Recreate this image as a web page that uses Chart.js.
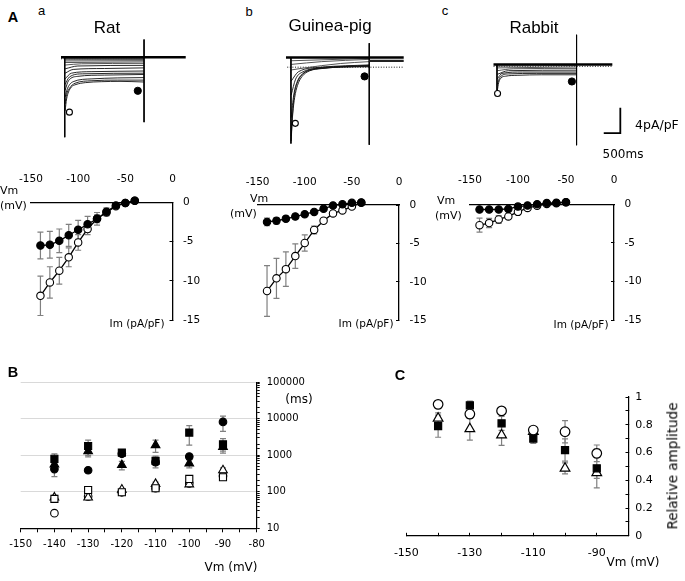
<!DOCTYPE html>
<html><head><meta charset="utf-8">
<script src="https://cdn.jsdelivr.net/npm/chart.js@4"></script>
<style>
html,body{margin:0;padding:0;background:#fff;}
#fig{position:relative;width:685px;height:581px;overflow:hidden;background:#fff;font-family:"DejaVu Sans",sans-serif;color:#000;}
#fig canvas{position:absolute;}
.t{position:absolute;white-space:nowrap;line-height:1;}
</style></head><body><div id="fig"></div>
<script>
// ---------------- DATA ----------------
// Panel A traces: time (ms from pulse onset), current (pA/pF)
const ratTraces = [
  [[10,-8.3],[56,-6.4],[113,-5.3],[198,-4.5],[339,-4.1],[622,-3.8],[1100,-3.65],[1667,-3.6],[2390,-3.7]],
  [[10,-7.2],[56,-5.7],[141,-4.7],[311,-3.9],[820,-3.5],[1600,-3.4],[2390,-3.4]],
  [[10,-6.1],[85,-4.7],[254,-3.65],[820,-3.2],[1600,-3.05],[2390,-3.0]],
  [[10,-5.0],[113,-3.5],[395,-2.8],[1200,-2.6],[2390,-2.5]],
  [[10,-4.1],[141,-2.9],[537,-2.4],[2390,-2.3]],
  [[10,-3.2],[198,-2.3],[820,-2.05],[2390,-1.95]],
  [[10,-2.3],[254,-1.7],[1200,-1.55],[2390,-1.45]],
  [[10,-1.6],[395,-1.15],[2390,-1.05]],
  [[10,-1.0],[500,-0.8],[2390,-0.73]],
  [[10,-0.6],[2390,-0.5]],
  [[10,-0.35],[2390,-0.3]],
  [[10,-0.15],[2390,-0.12]],
  [[10,0.05],[2390,0.05]]
];
const ratHolding = [[-113,0.25],[3650,0.25]];
const ratZero = [[-113,0],[2390,0]];
const ratOnset = [[0,0.25],[0,-12.5]];
const ratOffset = [[2393,3.07],[2393,-10.1]];
const ratPeakMark = [[141,-8.5]];
const ratLateMark = [[2204,-5.1]];

const gpTraces = [
  [[8,-11.7],[42,-8.0],[85,-5.1],[141,-3.36],[226,-2.04],[367,-1.02],[565,-0.51],[848,-0.22],[1497,0],[2370,0.07]],
  [[8,-10.9],[56,-7.3],[113,-4.8],[198,-2.9],[339,-1.46],[565,-0.58],[932,-0.22],[1600,0.05],[2370,0.15]],
  [[8,-8.0],[85,-4.4],[198,-2.2],[367,-1.0],[650,-0.29],[1500,0.1],[2370,0.22]],
  [[8,-4.4],[141,-1.9],[367,-0.73],[932,-0.15],[2370,0.29]],
  [[8,-2.2],[226,-0.73],[932,0],[2370,0.36]],
  [[8,-0.44],[367,-0.15],[1497,0.58],[2370,0.88]],
  [[8,0.44],[932,0.88],[2370,1.24]],
  [[8,1.02],[2370,1.39]]
];
const gpHolding = [[-150,1.53],[3418,1.53]];
const gpTail = [[2373,1.0],[3418,1.0]];
const gpZero = [[-113,0],[3418,0]];
const gpOnset = [[0,1.6],[0,-12.1]];
const gpOffset = [[2373,3.8],[2373,-12.3]];
const gpPeakMark = [[133,-8.9]];
const gpLateMark = [[2232,-1.46]];

const rbTraces = [
  [[8,-3.9],[51,-2.58],[121,-1.85],[263,-1.56],[630,-1.42],[1336,-1.34],[2398,-1.34]],
  [[8,-2.88],[93,-1.71],[347,-1.2],[1200,-1.12],[2398,-1.12]],
  [[8,-2.0],[150,-1.12],[771,-0.9],[2398,-0.9]],
  [[8,-1.27],[347,-0.69],[2398,-0.61]],
  [[8,-0.69],[489,-0.39],[2398,-0.32]],
  [[8,-0.25],[2398,-0.1]],
  [[8,0.04],[2398,0.12]]
];
const rbHolding = [[-105,0.29],[3480,0.29]];
const rbZero = [[-105,0],[3480,0]];
const rbOnset = [[0,0.34],[0,-4.1]];
const rbOffset = [[2401,5.0],[2401,-12.5]];
const rbPeakMark = [[17,-4.3]];
const rbLateMark = [[2260,-2.4]];
const scaleBar = [[3221,-10.57],[3721,-10.57],[3721,-6.57]]; // 500 ms, 4 pA/pF

// Panel A I-V curves
const ivVm = [-140,-130,-120,-110,-100,-90,-80,-70,-60,-50,-40];
const ratLate    = [-5.5,-5.4,-4.9,-4.2,-3.5,-2.8,-2.1,-1.2,-0.4,-0.1,0.2];
const ratLateErr = [1.7,1.7,1.5,1.4,1.2,1.0,0.8,0.5,0.3,0.2,0.1];
const ratPeak    = [-11.9,-10.2,-8.7,-7.0,-5.1,-3.4,-2.1,-1.3,-0.5,-0.1,0.2];
const ratPeakErr = [2.5,2.0,1.7,1.2,1.0,0.7,0.5,0.4,0.2,0.1,0.1];
const gpLate     = [-2.2,-2.05,-1.8,-1.5,-1.2,-0.9,-0.5,-0.05,0.1,0.28,0.32];
const gpLateErr  = [0.5,0.4,0.35,0.3,0.25,0.2,0.15,0.1,0.1,0.1,0.1];
const gpPeak     = [-11.2,-9.55,-8.35,-6.65,-4.95,-3.25,-2.05,-1.1,-0.7,-0.2,0.3];
const gpPeakErr  = [3.3,2.6,2.25,1.6,1.05,0.5,0.3,0.3,0.2,0.1,0.1];
const rbVm = [-140,-130,-120,-110,-100,-90,-80,-70,-60,-50];
const rbLate     = [-0.67,-0.67,-0.67,-0.6,-0.3,-0.16,0,0.16,0.2,0.27];
const rbLateErr  = [0.15,0.15,0.12,0.12,0.4,0.1,0.1,0.1,0.1,0.1];
const rbPeak     = [-2.7,-2.43,-1.96,-1.57,-0.98,-0.47,-0.2,0.05,0.15,0.25];
const rbPeakErr  = [0.9,0.6,0.5,0.3,0.2,0.1,0.1,0.1,0.1,0.1];

// Panel B time constants (ms)
const bVm = [-140,-130,-120,-110,-100,-90];
const slowCircle = [420,390,1100,650,920,8200];
const slowCircleErr = [160,60,150,120,150,3700];
const slowSquare = [800,1800,1180,700,4200,2000];
const slowSquareErr = [290,800,250,250,2300,850];
const slowTriangle = [560,1300,540,1900,600,1700];
const slowTriangleErr = [150,400,140,700,150,400];
const fastCircle = [26,75,97,125,170,270];
const fastCircleErr = [3,8,8,10,20,30];
const fastSquare = [64,112,97,125,225,250];
const fastSquareErr = [10,15,10,15,40,40];
const fastTriangle = [70,70,115,165,160,390];
const fastTriangleErr = [10,10,10,20,20,60];
const bTicks = [10,100,1000,10000,100000];

// Panel C relative amplitude
const cVm = [-140,-130,-120,-110,-100,-90];
const relCircle = [0.947,0.877,0.90,0.762,0.75,0.594];
const relCircleErr = [0.02,0.03,0.02,0.02,0.08,0.06];
const relSquare = [0.79,0.94,0.81,0.70,0.618,0.486];
const relSquareErr = [0.08,0.03,0.05,0.035,0.08,0.14];
const relTriangle = [0.846,0.77,0.726,0.75,0.486,0.454];
const relTriangleErr = [0.04,0.08,0.075,0.03,0.04,0.04];

// ---------------- SETUP ----------------
Chart.defaults.font.family = '"DejaVu Sans", sans-serif';
Chart.defaults.color = '#000';
Chart.defaults.animation = false;
Chart.defaults.responsive = false;
Chart.defaults.devicePixelRatio = 1;
Chart.defaults.plugins.legend.display = false;
Chart.defaults.plugins.tooltip.enabled = false;

const fig = document.getElementById('fig');
function makeCanvas(x, y, w, h) {
  const c = document.createElement('canvas');
  c.width = w; c.height = h;
  c.style.left = x + 'px'; c.style.top = y + 'px';
  c.style.width = w + 'px'; c.style.height = h + 'px';
  fig.appendChild(c);
  return c;
}
function txt(s, x, y, o) {
  o = o || {};
  const d = document.createElement('div');
  d.className = 't'; d.textContent = s;
  d.style.left = x + 'px'; d.style.top = y + 'px';
  d.style.fontSize = (o.size || 10) + 'px';
  if (o.font) d.style.fontFamily = o.font;
  if (o.bold) d.style.fontWeight = 'bold';
  const ax = o.ax === undefined ? 0 : o.ax;
  d.style.transform = o.rot ? `translate(-50%,-50%) rotate(${o.rot}deg)` : `translate(${-ax * 100}%,-50%)`;
  fig.appendChild(d);
}
// fix an axis box to an exact size so the chart area is known
const fixSize = n => s => { if (s.isHorizontal()) s.height = n; else s.width = n; };
const toXY = arr => arr.map(p => ({x: p[0], y: p[1]}));
const pts = (xs, ys) => xs.map((x, i) => ({x, y: ys[i]}));

const errorBarPlugin = {
  id: 'errorBars',
  beforeDatasetsDraw(chart) {
    const ctx = chart.ctx;
    chart.data.datasets.forEach((ds, i) => {
      if (!ds.errors) return;
      const meta = chart.getDatasetMeta(i);
      const xs = chart.scales[meta.xAxisID], ys = chart.scales[meta.yAxisID];
      ctx.save();
      ctx.strokeStyle = '#808080';
      ctx.lineWidth = 1.2;
      ds.data.forEach((p, j) => {
        const e = ds.errors[j];
        if (!e) return;
        const x = xs.getPixelForValue(p.x);
        let lo = p.y - e;
        if (ys.type === 'logarithmic' && lo <= 0) lo = p.y * 0.5;
        const y1 = ys.getPixelForValue(lo), y2 = ys.getPixelForValue(p.y + e);
        const cw = 3;
        ctx.beginPath();
        ctx.moveTo(x, y1); ctx.lineTo(x, y2);
        ctx.moveTo(x - cw, y1); ctx.lineTo(x + cw, y1);
        ctx.moveTo(x - cw, y2); ctx.lineTo(x + cw, y2);
        ctx.stroke();
      });
      ctx.restore();
    });
  }
};

// ---------------- TRACE CHARTS ----------------
function traceChart(rect, xr, yr, traces, parts) {
  const c = makeCanvas(rect[0], rect[1], rect[2], rect[3]);
  const ds = [];
  ds.push({data: toXY(parts.peak), pointRadius: 3, pointBackgroundColor: '#fff', pointBorderColor: '#000', pointBorderWidth: 1.1, showLine: false});
  ds.push({data: toXY(parts.late), pointRadius: 3.6, pointBackgroundColor: '#000', pointBorderColor: '#000', showLine: false});
  ds.push({data: toXY(parts.holding), borderColor: '#000', borderWidth: 2.6, pointRadius: 0});
  if (parts.tail) ds.push({data: toXY(parts.tail), borderColor: '#222', borderWidth: 2.2, pointRadius: 0});
  ds.push({data: toXY(parts.onset), borderColor: '#000', borderWidth: 1, pointRadius: 0});
  ds.push({data: toXY(parts.offset), borderColor: '#000', borderWidth: 1, pointRadius: 0});
  if (parts.bar) ds.push({data: toXY(parts.bar), borderColor: '#000', borderWidth: 1.8, pointRadius: 0});
  traces.forEach((tr) => {
    const near = tr[0][1] > -1.1;
    ds.push({data: toXY(tr), borderColor: near ? '#555' : '#111', borderWidth: near ? 1 : 0.9, pointRadius: 0, cubicInterpolationMode: 'monotone'});
  });
  ds.push({data: toXY(parts.zero), borderColor: '#000', borderWidth: 0.9, borderDash: [1, 1.6], pointRadius: 0});
  new Chart(c, {
    type: 'line',
    data: {datasets: ds},
    options: {
      layout: {padding: 0},
      scales: {
        x: {type: 'linear', display: false, min: xr[0], max: xr[1]},
        y: {type: 'linear', display: false, min: yr[0], max: yr[1]}
      }
    }
  });
}

traceChart([40, 28, 160, 122], [-593, 3927], [-13.72, 4.09], ratTraces,
  {holding: ratHolding, zero: ratZero, onset: ratOnset, offset: ratOffset, peak: ratPeakMark, late: ratLateMark});
traceChart([270, 28, 150, 130], [-480, 3757], [-13.58, 5.40], gpTraces,
  {holding: gpHolding, tail: gpTail, zero: gpZero, onset: gpOnset, offset: gpOffset, peak: gpPeakMark, late: gpLateMark});
traceChart([480, 25, 160, 130], [-359, 4161], [-13.24, 5.74], rbTraces,
  {holding: rbHolding, zero: rbZero, onset: rbOnset, offset: rbOffset, peak: rbPeakMark, late: rbLateMark, bar: scaleBar});

// ---------------- IV CHARTS ----------------
function ivChart(rect, pad, vm, late, lateErr, peak, peakErr, xPad) {
  const c = makeCanvas(rect[0], rect[1], rect[2], rect[3]);
  const common = {borderColor: '#000', borderWidth: 1.3, pointRadius: 3.7, pointBorderColor: '#000', pointBorderWidth: 1.1, clip: false, tension: 0};
  new Chart(c, {
    type: 'line',
    data: {datasets: [
      Object.assign({data: pts(vm, late), errors: lateErr, pointBackgroundColor: '#000'}, common),
      Object.assign({data: pts(vm, peak), errors: peakErr, pointBackgroundColor: '#fff'}, common)
    ]},
    options: {
      layout: {padding: {left: pad.left, top: 0, right: 0, bottom: pad.bottom}},
      scales: {
        x: {type: 'linear', position: 'top', min: -150, max: 0, afterFit: fixSize(pad.top),
            ticks: {stepSize: 50, padding: xPad, font: {size: 10.5}, maxRotation: 0, autoSkip: false},
            grid: {drawOnChartArea: false, drawTicks: false},
            border: {color: '#000', width: 1.3}},
        y: {type: 'linear', position: 'right', min: -15, max: 0, afterFit: fixSize(pad.right),
            ticks: {stepSize: 5, padding: 13.5, font: {size: 10.5}, autoSkip: false},
            grid: {drawOnChartArea: false, tickLength: -3, tickColor: '#000'},
            border: {color: '#000', width: 1.3}}
      }
    },
    plugins: [errorBarPlugin]
  });
}
ivChart([0, 160, 225, 180], {left: 31, top: 42.3, right: 52.5, bottom: 13.3}, ivVm, ratLate, ratLateErr, ratPeak, ratPeakErr, 17);
ivChart([225, 160, 215, 180], {left: 32.6, top: 45, right: 41, bottom: 9.3}, ivVm, gpLate, gpLateErr, gpPeak, gpPeakErr, 16);
ivChart([440, 160, 245, 180], {left: 22.5, top: 44.3, right: 71, bottom: 7.7}, rbVm, rbLate, rbLateErr, rbPeak, rbPeakErr, 18);

// ---------------- PANEL B ----------------
(function () {
  const c = makeCanvas(0, 360, 330, 220);
  const mk = (ys, err, style, filled, r) => ({
    data: pts(bVm, ys), errors: err, pointStyle: style, pointRadius: r,
    pointBackgroundColor: filled ? '#000' : '#fff', pointBorderColor: '#000', pointBorderWidth: 1.1, clip: false
  });
  new Chart(c, {
    type: 'scatter',
    data: {datasets: [
      mk(fastSquare, fastSquareErr, 'rect', false, 5),
      mk(fastTriangle, fastTriangleErr, 'triangle', false, 5),
      mk(fastCircle, fastCircleErr, 'circle', false, 3.8),
      mk(slowSquare, slowSquareErr, 'rect', true, 5),
      mk(slowTriangle, slowTriangleErr, 'triangle', true, 5),
      mk(slowCircle, slowCircleErr, 'circle', true, 3.8)
    ]},
    options: {
      layout: {padding: {left: 20.7, top: 22.3, right: 0, bottom: 0}},
      scales: {
        x: {type: 'linear', position: 'bottom', min: -150, max: -80, afterFit: fixSize(51.7),
            ticks: {stepSize: 5, padding: 6, font: {size: 10}, maxRotation: 0, autoSkip: false,
                    callback: v => (Math.round(v) % 10 === 0 ? String(v) : '')},
            grid: {drawOnChartArea: false, tickLength: 4, tickColor: '#000'},
            border: {color: '#000', width: 1.2}},
        y: {type: 'logarithmic', position: 'right', min: 10, max: 100000, afterFit: fixSize(73.3),
            ticks: {padding: 7, font: {size: 10}, autoSkip: false,
                    callback: v => (bTicks.includes(Math.round(v)) && Math.abs(v - Math.round(v)) < 1e-6 ? String(Math.round(v)) : '')},
            grid: {drawOnChartArea: true, tickLength: 3, tickColor: '#000',
                   color: ctx => (ctx.tick && bTicks.includes(Math.round(ctx.tick.value)) ? '#d9d9d9' : 'rgba(0,0,0,0)')},
            border: {color: '#000', width: 1.2}}
      }
    },
    plugins: [errorBarPlugin]
  });
})();

// ---------------- PANEL C ----------------
(function () {
  const c = makeCanvas(380, 370, 305, 211);
  const mk = (ys, err, style, filled, r) => ({
    data: pts(cVm, ys), errors: err, pointStyle: style, pointRadius: r,
    pointBackgroundColor: filled ? '#000' : '#fff', pointBorderColor: '#000', pointBorderWidth: 1.2, clip: false
  });
  new Chart(c, {
    type: 'scatter',
    data: {datasets: [
      mk(relCircle, relCircleErr, 'circle', false, 4.8),
      mk(relSquare, relSquareErr, 'rect', true, 5),
      mk(relTriangle, relTriangleErr, 'triangle', false, 5.6)
    ]},
    options: {
      layout: {padding: {left: 26, top: 27, right: 0, bottom: 0}},
      scales: {
        x: {type: 'linear', position: 'bottom', min: -150, max: -80, afterFit: fixSize(45.2),
            ticks: {stepSize: 10, padding: 13.9, font: {size: 11}, maxRotation: 0, autoSkip: false,
                    callback: v => ((Math.round(v) + 150) % 20 === 0 && v < -85 ? String(v) : '')},
            grid: {drawOnChartArea: false, tickLength: -3, tickColor: '#000'},
            border: {color: '#000', width: 1.2}},
        y: {type: 'linear', position: 'right', min: 0, max: 1, afterFit: fixSize(56.5),
            ticks: {stepSize: 0.1, padding: 9.7, font: {size: 11}, autoSkip: false,
                    callback: v => { const k = Math.round(v * 10); return k % 2 === 0 ? (k === 0 ? '0' : k === 10 ? '1' : (k / 10).toFixed(1)) : ''; }},
            grid: {drawOnChartArea: false, tickLength: -3, tickColor: '#000'},
            border: {color: '#000', width: 1.2}}
      }
    },
    plugins: [errorBarPlugin]
  });
})();

// ---------------- TEXT ----------------
const AR = '"Liberation Sans", Arial, sans-serif';
txt('A', 13, 17, {size: 14.5, bold: true, font: AR, ax: 0.5});
txt('a', 41.5, 10, {size: 13, font: AR, ax: 0.5});
txt('b', 249, 11, {size: 13, font: AR, ax: 0.5});
txt('c', 445, 10, {size: 13, font: AR, ax: 0.5});
txt('Rat', 107, 27, {size: 17, font: AR, ax: 0.5});
txt('Guinea-pig', 330, 25, {size: 17, font: AR, ax: 0.5});
txt('Rabbit', 534, 27, {size: 17, font: AR, ax: 0.5});
txt('4pA/pF', 635, 125, {size: 12.5});
txt('500ms', 623, 154, {size: 12, ax: 0.5});

txt('Vm', 0, 190, {size: 11});
txt('(mV)', 0, 205, {size: 11});
txt('Im (pA/pF)', 164.5, 323, {size: 10.5, ax: 1});
txt('Vm', 250, 198, {size: 11});
txt('(mV)', 230, 213, {size: 11});
txt('Im (pA/pF)', 393.5, 323, {size: 10.5, ax: 1});
txt('Vm', 437, 200, {size: 11});
txt('(mV)', 435, 215, {size: 11});
txt('Im (pA/pF)', 608.5, 324, {size: 10.5, ax: 1});

txt('B', 13, 372, {size: 14.5, bold: true, font: AR, ax: 0.5});
txt('(ms)', 299, 399, {size: 12, ax: 0.5});
txt('Vm (mV)', 231, 567, {size: 12, ax: 0.5});

txt('C', 400, 375, {size: 14.5, bold: true, font: AR, ax: 0.5});
txt('Vm (mV)', 633, 562, {size: 12, ax: 0.5});
txt('Relative amplitude', 673, 466, {size: 13.5, rot: -90});
</script>
</body></html>
